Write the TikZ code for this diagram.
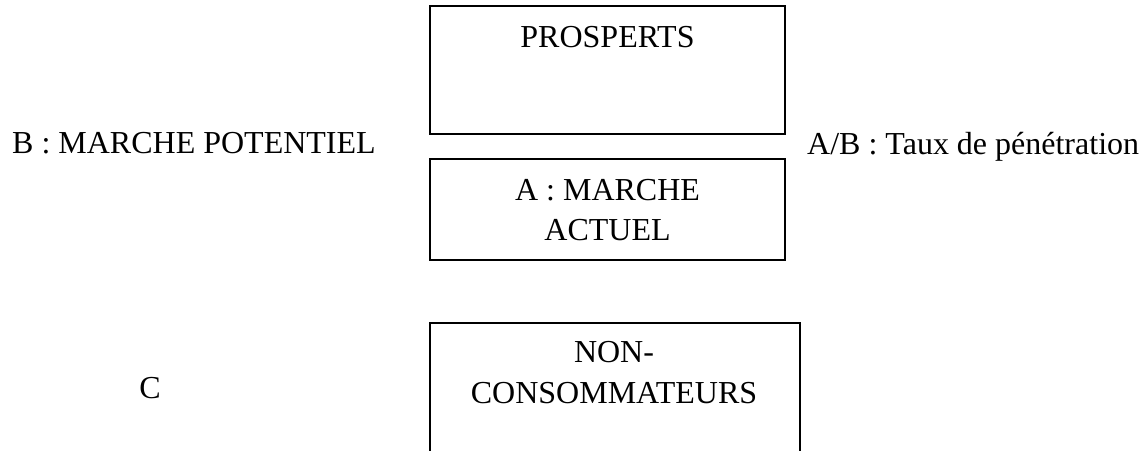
\documentclass[tikz,border=0pt]{standalone}
\usepackage{fontspec}
\setmainfont{Liberation Serif}
\begin{document}
\begin{tikzpicture}[x=1pt,y=-1pt,
  boxstyle/.style={draw=black,line width=2pt,rectangle,inner sep=0pt},
  txt/.style={font=\fontsize{32}{37}\selectfont,inner sep=0pt,text=black}]
\useasboundingbox (0,0) rectangle (1147,450);
\clip (0,0) rectangle (1147,450);
\fill[white] (0,0) rectangle (1147,450);
% boxes
\node[boxstyle,minimum width=355pt,minimum height=128pt] (prosp) at (607.5,70) {};
\node[boxstyle,minimum width=355pt,minimum height=101pt] (actuel) at (607.5,209.5) {};
\node[boxstyle,minimum width=370pt,minimum height=180pt] (noncons) at (615,413) {};
% box texts
\node[txt,anchor=base] (tprosp) at (607.5,47) {PROSPERTS};
\node[txt,anchor=base] (ta1) at (607.5,200) {A : MARCHE};
\node[txt,anchor=base] (ta2) at (607.5,240) {ACTUEL};
\node[txt,anchor=base] (tn1) at (614,362) {NON-};
\node[txt,anchor=base] (tn2) at (614,403) {CONSOMMATEURS};
% side labels
\node[txt,anchor=base west] (lb) at (12,153) {B : MARCHE POTENTIEL};
\node[txt,anchor=base west] (lab) at (807,154) {A/B : Taux de pénétration};
\node[txt,anchor=base] (lc) at (150,398) {C};
\end{tikzpicture}
\end{document}
